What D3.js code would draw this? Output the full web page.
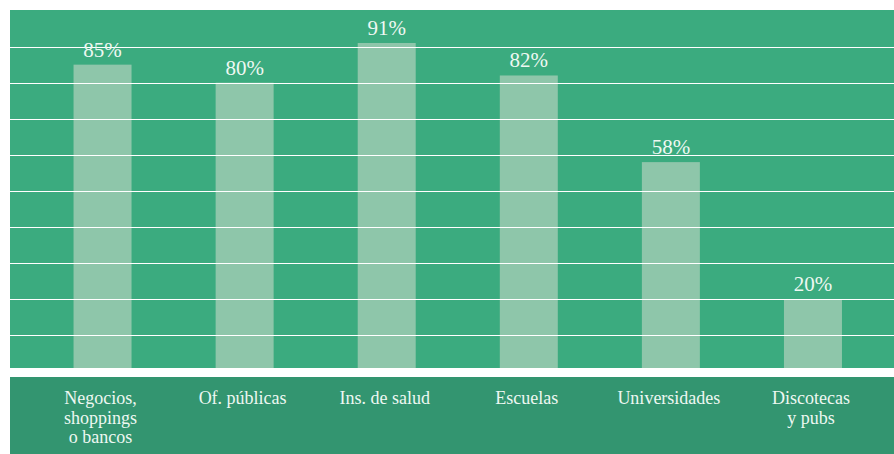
<!DOCTYPE html>
<html>
<head>
<meta charset="utf-8">
<script src="https://cdn.jsdelivr.net/npm/d3@7"></script>
<style>
  html, body { margin: 0; padding: 0; background: #ffffff; }
  svg { display: block; }
</style>
</head>
<body>
<div id="chart"></div>
<script>
// data
const categories = [
  ['Negocios,', 'shoppings', 'o bancos'],
  ['Of. públicas'],
  ['Ins. de salud'],
  ['Escuelas'],
  ['Universidades'],
  ['Discotecas', 'y pubs']
];
const values = [85, 80, 91, 82, 58, 20];
const gridTicks = [10, 20, 30, 40, 50, 60, 70, 80, 90];

const width = 894;
const height = 454;
const panel = { left: 10, top: 10, right: 894, bottom: 368 };
const labelPanel = { top: 377, bottom: 454 };
const barWidth = 58;
const font = '"Liberation Serif", "DejaVu Serif", serif';

const svg = d3.select('#chart')
  .append('svg')
  .attr('width', width)
  .attr('height', height);

// x positions of the bar centres
const x = d3.scalePoint()
  .domain(d3.range(values.length))
  .range([31.5, 884])
  .padding(0.5);

// 100% sits at the top of the panel, 0% a few px under its bottom edge
const y = d3.scaleLinear()
  .domain([0, 100])
  .range([371.5, 10.5]);

// plot panel background
svg.append('rect')
  .attr('x', panel.left)
  .attr('y', panel.top)
  .attr('width', panel.right - panel.left)
  .attr('height', panel.bottom - panel.top)
  .style('fill', '#3bab7f');

svg.append('clipPath')
  .attr('id', 'plot-clip')
  .append('rect')
  .attr('x', panel.left)
  .attr('y', panel.top)
  .attr('width', panel.right - panel.left)
  .attr('height', panel.bottom - panel.top);

const plot = svg.append('g').attr('clip-path', 'url(#plot-clip)');

// bars
plot.selectAll('rect.bar')
  .data(values)
  .enter()
  .append('rect')
  .attr('class', 'bar')
  .attr('x', (d, i) => x(i) - barWidth / 2)
  .attr('y', d => y(d))
  .attr('width', barWidth)
  .attr('height', d => y(0) - y(d))
  .style('fill', '#8ec6aa');

// white gridlines, drawn over the bars
const yAxis = d3.axisLeft(y)
  .tickValues(gridTicks)
  .tickSize(-(panel.right - panel.left))
  .tickFormat('');

const grid = plot.append('g')
  .attr('transform', `translate(${panel.left},0)`)
  .call(yAxis);
grid.select('.domain').remove();
grid.selectAll('.tick line')
  .attr('shape-rendering', 'crispEdges')
  .style('stroke', '#ffffff')
  .style('stroke-width', 1);

// value labels
svg.selectAll('text.value')
  .data(values)
  .enter()
  .append('text')
  .attr('class', 'value')
  .attr('x', (d, i) => x(i))
  .attr('y', d => y(d) - 8)
  .attr('text-anchor', 'middle')
  .style('font-family', font)
  .style('font-size', '21px')
  .style('fill', '#eef8f2')
  .text(d => d + '%');

// category label panel
svg.append('rect')
  .attr('x', panel.left)
  .attr('y', labelPanel.top)
  .attr('width', panel.right - panel.left)
  .attr('height', labelPanel.bottom - labelPanel.top)
  .style('fill', '#339570');

const catText = svg.selectAll('text.cat')
  .data(categories)
  .enter()
  .append('text')
  .attr('class', 'cat')
  .attr('text-anchor', 'middle')
  .style('font-family', font)
  .style('font-size', '18px')
  .style('fill', '#eef8f2');

catText.selectAll('tspan')
  .data((d, i) => d.map(line => ({ line, i })))
  .enter()
  .append('tspan')
  .attr('x', d => x(d.i) - 2)
  .attr('y', (d, j) => 404 + j * 19.5)
  .text(d => d.line);
</script>
</body>
</html>
